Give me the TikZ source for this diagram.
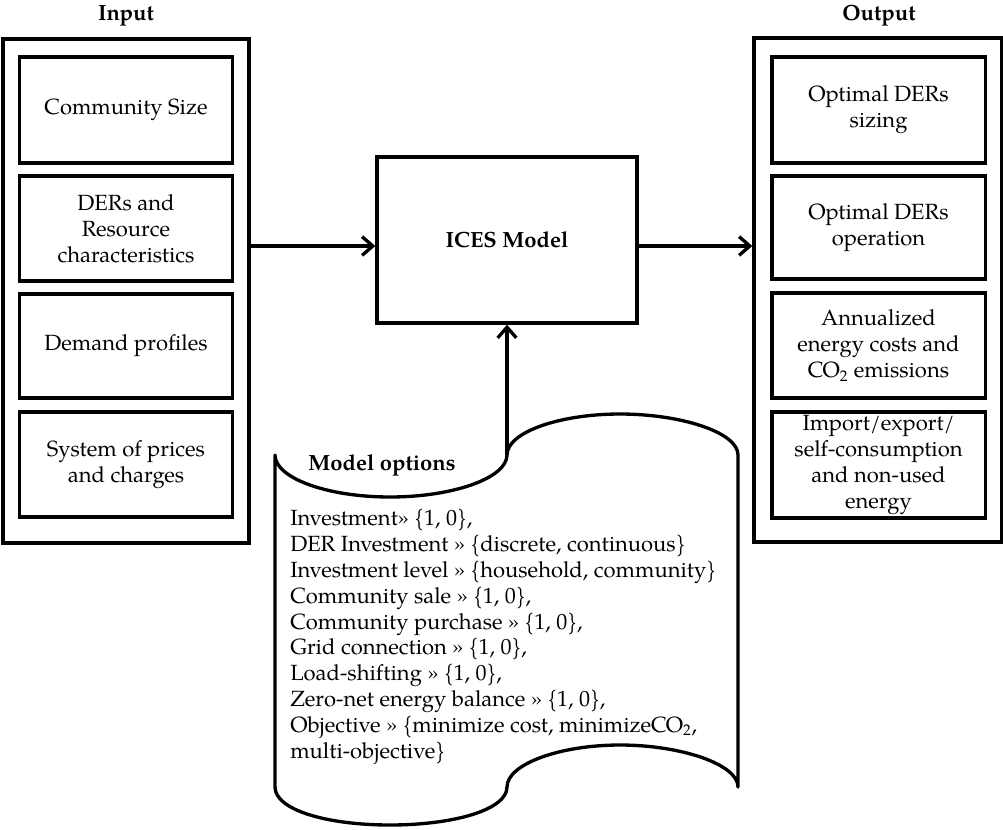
\documentclass[tikz,border=0pt]{standalone}
\usepackage{fontspec}
\setmainfont{TeX Gyre Pagella}
\usetikzlibrary{arrows.meta}
\begin{document}
\begin{tikzpicture}[x=0.75pt,y=-0.75pt,
  every node/.style={font=\fontsize{16.5}{19.5}\selectfont, inner sep=0pt},
  outerbox/.style={draw, line width=2.5pt, minimum width=#1, minimum height=378pt},
  innerbox/.style={draw, line width=2.5pt, minimum width=160pt, minimum height=#1, align=center},
  title/.style={font=\fontsize{16.5}{19.5}\selectfont\bfseries},
  arr/.style={line width=2.5pt, -{Straight Barb[length=8pt,width=14pt]}},
  scrollline/.style={line width=2.5pt, line join=round}
]
\useasboundingbox (0,0) rectangle (1003,829);

% Input column
\node[title] (intitle) at (126,16) {Input};
\node[outerbox=184.5pt] (inbox) at (126,291) {};
\node[innerbox=79.5pt]  (in1) at (126,110)   {Community Size};
\node[innerbox=78.75pt] (in2) at (126,228.5) {DERs and\\Resource\\characteristics};
\node[innerbox=78pt]    (in3) at (126,346)   {Demand profiles};
\node[innerbox=78.75pt] (in4) at (126,464.5) {System of prices\\and charges};

% Output column
\node[title] (outtitle) at (879,16) {Output};
\node[outerbox=186pt] (outbox) at (878,290) {};
\node[innerbox=79.5pt]  (out1) at (878.5,110)   {Optimal DERs\\sizing};
\node[innerbox=77.25pt] (out2) at (878.5,227.5) {Optimal DERs\\operation};
\node[innerbox=78.75pt] (out3) at (878.5,345.5) {Annualized\\energy costs and\\CO\textsubscript{2} emissions};
\node[innerbox=79.5pt]  (out4) at (878.5,465)   {Import/export/\\self-consumption\\and non-used\\energy};

% Model
\node[draw, line width=2.5pt, minimum width=195pt, minimum height=124.5pt, title] (ices) at (507,240) {ICES Model};

% Scroll (model options)
\draw[scrollline] (275,455)
  .. controls (275,478) and (327,497) .. (390,497)
  .. controls (453,497) and (507,478) .. (507,455)
  .. controls (507,432) and (560,414) .. (620,414)
  .. controls (680,414) and (738,432) .. (738,455)
  -- (738,787)
  .. controls (738,764) and (680,745) .. (620,745)
  .. controls (560,745) and (507,764) .. (507,787)
  .. controls (507,810) and (453,825) .. (390,825)
  .. controls (327,825) and (275,810) .. (275,787)
  -- cycle;
\coordinate (scrolltop) at (507,455);
\node[title] (optitle) at (382,465) {Model options};
\node[anchor=base west, align=left, font=\fontsize{16.5}{19.35}\selectfont] (opts) at (290,758) {%
Investment» \{1, 0\},\\
DER Investment » \{discrete, continuous\}\\
Investment level » \{household, community\}\\
Community sale » \{1, 0\},\\
Community purchase » \{1, 0\},\\
Grid connection » \{1, 0\},\\
Load-shifting » \{1, 0\},\\
Zero-net energy balance » \{1, 0\},\\
Objective » \{minimize cost, minimizeCO\textsubscript{2},\\
multi-objective\}};

% Connectors
\coordinate (ay) at (0,246);
\draw[arr] (inbox.east |- ay) -- (ices.west |- ay);
\draw[arr] (ices.east |- ay) -- (outbox.west |- ay);
\draw[arr] (scrolltop) -- (ices.south);
\end{tikzpicture}
\end{document}
